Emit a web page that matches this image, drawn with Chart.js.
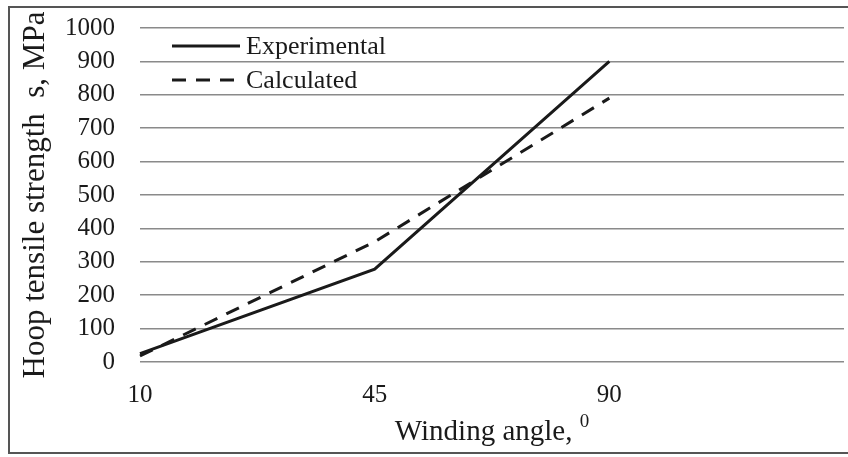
<!DOCTYPE html>
<html>
<head>
<meta charset="utf-8">
<script src="https://cdn.jsdelivr.net/npm/chart.js@4.4.1/dist/chart.umd.min.js"></script>
<style>
  html, body { margin: 0; padding: 0; background: #fff; }
  #wrap { position: relative; width: 848px; height: 457px; overflow: hidden; }
  #frame { position: absolute; left: 8px; top: 6px; width: 850px; height: 448px; border: 2px solid #555; box-sizing: border-box; pointer-events: none; }
</style>
</head>
<body>
<div id="wrap">
  <canvas id="hoopChart" width="848" height="457"></canvas>
  <div id="frame"></div>
</div>
<script>
// data
const angles = ["10", "45", "90", ""];
const experimental = [25, 278, 900, null];
const calculated = [18, 360, 790, null];
const yTicks = [0, 100, 200, 300, 400, 500, 600, 700, 800, 900, 1000];

const serif = "'Liberation Serif', 'Times New Roman', serif";
const ink = "#1a1a1a";

// legend inside the plot (top-left) and the x title with its raised 0
const extras = {
    id: "extras",
    afterDraw(chart) {
        const ctx = chart.ctx;
        const area = chart.chartArea;
        const x0 = area.left + 32;
        const rows = [46, 80];
        ctx.save();
        chart.data.datasets.forEach((ds, i) => {
            const y = rows[i];
            ctx.beginPath();
            ctx.setLineDash(ds.borderDash || []);
            ctx.lineWidth = ds.borderWidth;
            ctx.strokeStyle = ds.borderColor;
            ctx.moveTo(x0, y);
            ctx.lineTo(x0 + 68, y);
            ctx.stroke();
            ctx.setLineDash([]);
            ctx.fillStyle = ink;
            ctx.font = "26px " + serif;
            ctx.textBaseline = "middle";
            ctx.textAlign = "left";
            ctx.fillText(ds.label, x0 + 74, y + 1);
        });

        // x axis title
        const main = "Winding angle, ";
        const sup = "0";
        ctx.font = "29px " + serif;
        const wMain = ctx.measureText(main).width;
        ctx.font = "19px " + serif;
        const wSup = ctx.measureText(sup).width;
        const cx = (area.left + area.right) / 2;
        const start = cx - (wMain + wSup) / 2;
        const base = 440;
        ctx.textBaseline = "alphabetic";
        ctx.font = "29px " + serif;
        ctx.fillText(main, start, base);
        ctx.font = "19px " + serif;
        ctx.fillText(sup, start + wMain, base - 13);
        ctx.restore();
    }
};

const canvas = document.getElementById("hoopChart");
new Chart(canvas, {
    type: "line",
    data: {
        labels: angles,
        datasets: [
            {
                label: "Experimental",
                data: experimental,
                borderColor: ink,
                borderWidth: 3,
                pointRadius: 0,
                tension: 0,
                fill: false
            },
            {
                label: "Calculated",
                data: calculated,
                borderColor: ink,
                borderWidth: 3,
                borderDash: [14, 10],
                pointRadius: 0,
                tension: 0,
                fill: false
            }
        ]
    },
    options: {
        responsive: false,
        animation: false,
        layout: { padding: { top: 28, right: 4, left: 0, bottom: 0 } },
        plugins: {
            legend: { display: false },
            tooltip: { enabled: false }
        },
        scales: {
            x: {
                type: "category",
                offset: false,
                grid: { display: false },
                border: { display: false },
                ticks: {
                    color: ink,
                    font: { family: serif, size: 25 },
                    padding: 10,
                    maxRotation: 0,
                    autoSkip: false
                },
                afterFit(scale) {
                    scale.height = 95;
                    scale.paddingLeft = 0;
                    scale.paddingRight = 0;
                }
            },
            y: {
                min: 0,
                max: 1000,
                afterBuildTicks(scale) {
                    scale.ticks = yTicks.map(v => ({ value: v }));
                },
                grid: {
                    color: "#8a8a8a",
                    lineWidth: 1.5,
                    drawTicks: false
                },
                border: { display: false },
                ticks: {
                    color: ink,
                    font: { family: serif, size: 25 },
                    padding: 25,
                    autoSkip: false,
                    callback: v => String(v)
                },
                title: {
                    display: true,
                    text: "Hoop tensile strength  s, MPa",
                    color: ink,
                    font: { family: serif, size: 31 },
                    padding: { top: 17, bottom: 0 }
                },
                afterFit(scale) {
                    scale.width = 140;
                    scale.paddingTop = 0;
                    scale.paddingBottom = 0;
                }
            }
        }
    },
    plugins: [extras]
});
</script>
</body>
</html>
